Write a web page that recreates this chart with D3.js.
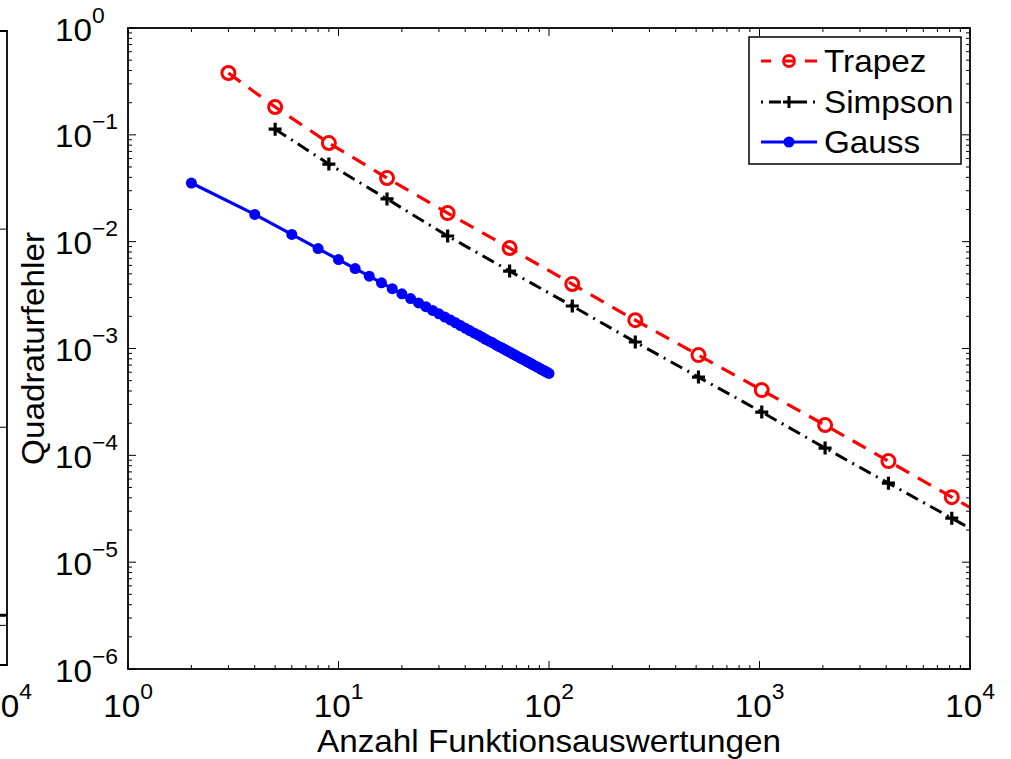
<!DOCTYPE html>
<html>
<head>
<meta charset="utf-8">
<script src="https://cdn.jsdelivr.net/npm/d3@7/dist/d3.min.js"></script>
<style>
  body { margin: 0; background: #fff; }
  text { font-family: "Liberation Sans", Arial, sans-serif; fill: #000; }
</style>
</head>
<body>
<svg id="chart" width="1011" height="759"></svg>
<script>
// --- data ---
var trapezN   = [3, 5, 9, 17, 33, 65, 129, 257, 513, 1025, 2049, 4097, 8193, 16385];
var trapezErr = [0.379, 0.182, 0.0838, 0.0394, 0.0185, 0.00871, 0.00401, 0.00184,
                 0.000867, 0.000408, 0.000192, 0.0000883, 0.0000406, 0.0000187];

var simpsonN   = [5, 9, 17, 33, 65, 129, 257, 513, 1025, 2049, 4097, 8193, 16385];
var simpsonErr = [0.113, 0.0533, 0.0251, 0.0113, 0.00531, 0.00250, 0.00115,
                  0.000540, 0.000254, 0.000117, 0.0000549, 0.0000258, 0.0000121];

var gaussN = [2, 4, 6, 8, 10, 12, 14, 16, 18, 20, 22, 24, 26, 28, 30, 32, 34, 36, 38, 40,
              42, 44, 46, 48, 50, 52, 54, 56, 58, 60, 62, 64, 66, 68, 70, 72, 74, 76, 78, 80,
              82, 84, 86, 88, 90, 92, 94, 96, 98, 100];
var gaussErr = [0.0354, 0.0180, 0.0117, 0.00862, 0.00680, 0.00560, 0.00475, 0.00412, 0.00363, 0.00325,
                0.00293, 0.00267, 0.00246, 0.00227, 0.00211, 0.00197, 0.00185, 0.00174, 0.00164, 0.00155,
                0.00147, 0.00140, 0.00134, 0.00128, 0.00122, 0.00117, 0.00113, 0.00108, 0.00104, 0.00101,
                0.000973, 0.000941, 0.000911, 0.000882, 0.000855, 0.000830, 0.000806, 0.000783, 0.000762, 0.000742,
                0.000723, 0.000704, 0.000687, 0.000671, 0.000655, 0.000639, 0.000625, 0.000611, 0.000598, 0.000585];

var xTickExp = ['0', '1', '2', '3', '4'];
var yTickExp = ['0', '\u22121', '\u22122', '\u22123', '\u22124', '\u22125', '\u22126'];
var seriesNames = ['Trapez', 'Simpson', 'Gauss'];

// neighbouring subplot (only its right edge is visible)
var leftN   = [4097, 16385];
var leftErr = [1.8e-15, 1.8e-15];
var leftYTicks = [1, 1e-5, 1e-10, 1e-15];

// --- layout ---
var box = {left: 128, right: 970, top: 28, bottom: 669};
var fs = 32, fsExp = 22, sx = 1.04;
var svg = d3.select('#chart');

var x = d3.scaleLog().domain([1, 1e4]).range([box.left, box.right]);
var y = d3.scaleLog().domain([1e-6, 1]).range([box.bottom, box.top]);

function powLabel(sel, px, py, exp, anchor, dy) {
  var g = sel.append('g')
    .attr('transform', 'translate(' + px + ',' + py + ') scale(' + sx + ',1)');
  var t = g.append('text').attr('text-anchor', anchor).style('font-size', fs + 'px');
  t.append('tspan').text('10');
  t.append('tspan').attr('dy', dy).style('font-size', fsExp + 'px').text(exp);
}

// --- left neighbour axes ---
var lx = d3.scaleLog().domain([1, 1e4]).range([7 - 842, 7]);
var ly = d3.scaleLog().domain([1e-16, 1]).range([665, 31]);
svg.append('clipPath').attr('id', 'clipL').append('rect')
  .attr('x', 0).attr('y', 31).attr('width', 7).attr('height', 634);
svg.append('path')
  .datum(leftN.map(function(n, i){ return [n, leftErr[i]]; }))
  .attr('clip-path', 'url(#clipL)')
  .attr('fill', 'none').attr('stroke', '#000').attr('stroke-width', 3)
  .attr('d', d3.line().x(function(d){ return lx(d[0]); }).y(function(d){ return ly(d[1]); }));
svg.selectAll('.ltick').data(leftYTicks).enter().append('line')
  .attr('x1', 0).attr('x2', 7)
  .attr('y1', function(d){ return ly(d); }).attr('y2', function(d){ return ly(d); })
  .attr('stroke', '#000').attr('stroke-width', 1);
svg.append('path')
  .attr('d', 'M0,' + ly(1) + 'H' + lx(1e4) + 'V' + ly(1e-16) + 'H0')
  .attr('fill', 'none').attr('stroke', '#000').attr('stroke-width', 1.8);
powLabel(svg, lx(1e4), 717, '4', 'middle', -18);

// --- plot area ---
svg.append('clipPath').attr('id', 'clip').append('rect')
  .attr('x', box.left).attr('y', box.top)
  .attr('width', box.right - box.left).attr('height', box.bottom - box.top);

var line = d3.line()
  .x(function(d){ return x(d[0]); })
  .y(function(d){ return y(d[1]); });

function pairs(ns, es) { return ns.map(function(n, i){ return [n, es[i]]; }); }
var trapez = pairs(trapezN, trapezErr);
var simpson = pairs(simpsonN, simpsonErr);
var gauss = pairs(gaussN, gaussErr);

var plot = svg.append('g').attr('clip-path', 'url(#clip)');

// Gauss
plot.append('path').datum(gauss).attr('d', line)
  .attr('fill', 'none').attr('stroke', '#0000ff').attr('stroke-width', 3.2);
plot.selectAll('.gdot').data(gauss).enter().append('circle')
  .attr('cx', function(d){ return x(d[0]); }).attr('cy', function(d){ return y(d[1]); })
  .attr('r', 5.5).attr('fill', '#0000ff');

// Simpson
plot.append('path').datum(simpson).attr('d', line)
  .attr('fill', 'none').attr('stroke', '#000').attr('stroke-width', 3)
  .attr('stroke-dasharray', '13,6,2,6');
plot.selectAll('.splus').data(simpson).enter().append('path')
  .attr('transform', function(d){ return 'translate(' + x(d[0]) + ',' + y(d[1]) + ')'; })
  .attr('d', 'M-6.5,0H6.5M0,-6.5V6.5')
  .attr('stroke', '#000').attr('stroke-width', 3.2);

// Trapez
plot.append('path').datum(trapez).attr('d', line)
  .attr('fill', 'none').attr('stroke', '#ff0000').attr('stroke-width', 3.2)
  .attr('stroke-dasharray', '15,10');
plot.selectAll('.tcirc').data(trapez).enter().append('circle')
  .attr('cx', function(d){ return x(d[0]); }).attr('cy', function(d){ return y(d[1]); })
  .attr('r', 6.5).attr('fill', 'none').attr('stroke', '#ff0000').attr('stroke-width', 3);

// --- axes (MATLAB style: box, inward ticks on all sides) ---
var xMajor = [1, 10, 100, 1000, 10000];
var yMajor = [1e-6, 1e-5, 1e-4, 1e-3, 1e-2, 1e-1, 1];
var xMinor = x.ticks().filter(function(v){ return xMajor.indexOf(v) < 0; });
var yMinor = y.ticks().filter(function(v){ return yMajor.indexOf(v) < 0; });

var ax = svg.append('g').attr('stroke', '#000').attr('stroke-width', 1);
function xTicks(vals, len) {
  vals.forEach(function(v){
    ax.append('line').attr('x1', x(v)).attr('x2', x(v)).attr('y1', box.bottom).attr('y2', box.bottom - len);
    ax.append('line').attr('x1', x(v)).attr('x2', x(v)).attr('y1', box.top).attr('y2', box.top + len);
  });
}
function yTicks(vals, len) {
  vals.forEach(function(v){
    ax.append('line').attr('y1', y(v)).attr('y2', y(v)).attr('x1', box.left).attr('x2', box.left + len);
    ax.append('line').attr('y1', y(v)).attr('y2', y(v)).attr('x1', box.right).attr('x2', box.right - len);
  });
}
xTicks(xMajor, 8); xTicks(xMinor, 4);
yTicks(yMajor, 8); yTicks(yMinor, 4);

svg.append('rect')
  .attr('x', box.left).attr('y', box.top)
  .attr('width', box.right - box.left).attr('height', box.bottom - box.top)
  .attr('fill', 'none').attr('stroke', '#000').attr('stroke-width', 1.8);

xMajor.forEach(function(v, i){ powLabel(svg, x(v), 717, xTickExp[i], 'middle', -18); });
yMajor.slice().reverse().forEach(function(v, i){ powLabel(svg, 55, y(v) + 12.5, yTickExp[i], 'start', -18); });

svg.append('g').attr('transform', 'translate(' + (box.left + box.right) / 2 + ',752) scale(' + sx + ',1)')
  .append('text').attr('text-anchor', 'middle').style('font-size', fs + 'px')
  .text('Anzahl Funktionsauswertungen');
svg.append('g').attr('transform', 'translate(44,' + (box.top + box.bottom) / 2 + ') rotate(-90) scale(' + sx + ',1)')
  .append('text').attr('text-anchor', 'middle').style('font-size', fs + 'px')
  .text('Quadraturfehler');

// --- legend ---
var lg = svg.append('g');
lg.append('rect').attr('x', 749).attr('y', 37).attr('width', 212).attr('height', 127)
  .attr('fill', '#fff').attr('stroke', '#000').attr('stroke-width', 1.5);
var rowY = [61, 102, 142];
var styles = [
  {color: '#ff0000', dash: '10,14,8,12,12', off: 0},
  {color: '#000', dash: '12,6,2,6', off: 18},
  {color: '#0000ff', dash: null, off: 0}
];
seriesNames.forEach(function(name, i){
  var st = styles[i], ry = rowY[i];
  var l = lg.append('line').attr('x1', 761).attr('x2', 817).attr('y1', ry).attr('y2', ry)
    .attr('stroke', st.color).attr('stroke-width', 3);
  if (st.dash) l.attr('stroke-dasharray', st.dash).attr('stroke-dashoffset', st.off);
  if (i === 0) {
    lg.append('circle').attr('cx', 789).attr('cy', ry).attr('r', 5.5)
      .attr('fill', 'none').attr('stroke', st.color).attr('stroke-width', 2.8);
  } else if (i === 1) {
    lg.append('path').attr('d', 'M783,' + ry + 'H795M789,' + (ry - 6) + 'V' + (ry + 6))
      .attr('stroke', '#000').attr('stroke-width', 3);
  } else {
    lg.append('circle').attr('cx', 789).attr('cy', ry).attr('r', 5.5).attr('fill', st.color);
  }
  lg.append('g').attr('transform', 'translate(824,' + (ry + 11) + ') scale(' + sx + ',1)')
    .append('text').style('font-size', fs + 'px').text(name);
});
</script>
</body>
</html>
